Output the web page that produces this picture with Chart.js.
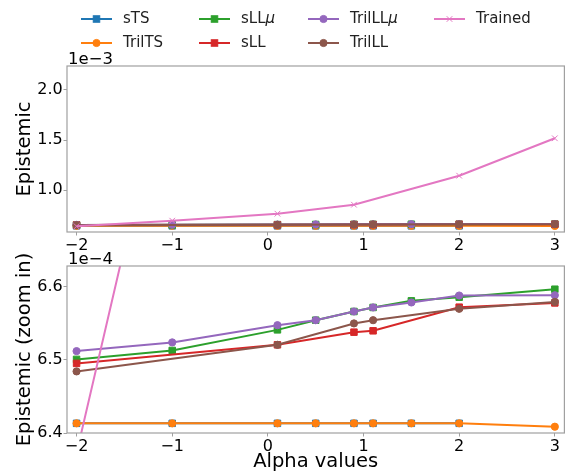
<!DOCTYPE html>
<html><head><meta charset="utf-8">
<script src="https://cdn.jsdelivr.net/npm/chart.js@4.4.0/dist/chart.umd.min.js"></script>
<style>
html,body{margin:0;padding:0;background:#fff;}
#wrap{position:relative;width:570px;height:475px;background:#fff;}
canvas{position:absolute;left:0;top:0;}
</style></head><body>
<div id="wrap"><canvas id="cTop" width="570" height="475"></canvas><canvas id="cBot" width="570" height="475"></canvas></div>
<script>
// ---- data ----
const seriesNames = ['sTS', 'TrilTS', 'sLLμ', 'sLL', 'TrilLLμ', 'TrilLL', 'Trained'];
const seriesColors = ['#1f77b4', '#ff7f0e', '#2ca02c', '#d62728', '#9467bd', '#8c564b', '#e377c2'];
const seriesMarkers = ['rect', 'circle', 'rect', 'rect', 'circle', 'circle', 'crossRot'];

const alphaAll = [-2, -1, 0.1, 0.5, 0.9, 1.1, 1.5, 2, 3];
const alphaTS = [-2, -1, 0.1, 0.5, 0.9, 1.1, 1.5, 2];
const alphaLL = [-2, 0.1, 0.9, 1.1, 2, 3];
const alphaTrained = [-2, -1, 0.1, 0.9, 2, 3];

const sTS = [6.4132e-4, 6.4132e-4, 6.4132e-4, 6.4132e-4, 6.4132e-4, 6.4132e-4, 6.4132e-4, 6.4132e-4];
const trilTS = [6.4132e-4, 6.4132e-4, 6.4132e-4, 6.4132e-4, 6.4132e-4, 6.4132e-4, 6.4132e-4, 6.4132e-4, 6.4086e-4];
const sLLmu = [6.5005e-4, 6.5127e-4, 6.5408e-4, 6.5540e-4, 6.5659e-4, 6.5714e-4, 6.5804e-4, 6.5854e-4, 6.5963e-4];
const sLL = [6.4950e-4, 6.5204e-4, 6.5377e-4, 6.5395e-4, 6.5718e-4, 6.5776e-4];
const trilLLmu = [6.5118e-4, 6.5237e-4, 6.5472e-4, 6.5540e-4, 6.5659e-4, 6.5714e-4, 6.5782e-4, 6.5877e-4, 6.5881e-4];
const trilLL = [6.4841e-4, 6.5204e-4, 6.5496e-4, 6.5540e-4, 6.5695e-4, 6.5790e-4];
const trained = [6.3725e-4, 6.934e-4, 7.63e-4, 8.53e-4, 11.43e-4, 15.17e-4];

const seriesX = [alphaTS, alphaAll, alphaAll, alphaLL, alphaAll, alphaLL, alphaTrained];
const seriesY = [sTS, trilTS, sLLmu, sLL, trilLLmu, trilLL, trained];

const xTicks = [-2, -1, 0, 1, 2, 3];
const xTickLabels = ['−2', '−1', '0', '1', '2', '3'];
const yTicksTop = [1.0e-3, 1.5e-3, 2.0e-3];
const yTickLabelsTop = ['1.0', '1.5', '2.0'];
const yTicksBot = [6.4e-4, 6.5e-4, 6.6e-4];
const yTickLabelsBot = ['6.4', '6.5', '6.6'];

const FONT = 'DejaVu Sans';
const SPINE = '#a0a0a0';

function buildDatasets() {
  return seriesNames.map((name, i) => ({
    label: name,
    data: seriesX[i].map((x, k) => ({x: x, y: seriesY[i][k]})),
    borderColor: seriesColors[i],
    backgroundColor: seriesColors[i],
    pointBackgroundColor: seriesColors[i],
    pointBorderColor: seriesColors[i],
    borderWidth: 2,
    pointStyle: seriesMarkers[i],
    pointRadius: seriesMarkers[i] === 'rect' ? 4.6 : (seriesMarkers[i] === 'circle' ? 3.6 : 4),
    pointBorderWidth: 1,
    tension: 0,
    clip: 0,
    order: seriesNames.length - 1 - i
  }));
}

function drawLegendMarker(ctx, style, color, x, y) {
  ctx.save();
  ctx.fillStyle = color; ctx.strokeStyle = color; ctx.lineWidth = 1;
  if (style === 'rect') {
    const s = 3.25; ctx.fillRect(x - s, y - s, 2 * s, 2 * s); ctx.strokeRect(x - s, y - s, 2 * s, 2 * s);
  } else if (style === 'circle') {
    ctx.beginPath(); ctx.arc(x, y, 3.6, 0, Math.PI * 2); ctx.fill(); ctx.stroke();
  } else {
    const s = 2.8; ctx.beginPath();
    ctx.moveTo(x - s, y - s); ctx.lineTo(x + s, y + s); ctx.moveTo(x + s, y - s); ctx.lineTo(x - s, y + s); ctx.stroke();
  }
  ctx.restore();
}

function drawLabel(ctx, text, x, y) {
  let base = text, suf = '';
  if (text.endsWith('μ')) { base = text.slice(0, -1); suf = 'μ'; }
  ctx.font = '15px "' + FONT + '"';
  ctx.fillText(base, x, y);
  if (suf) {
    const w = ctx.measureText(base).width;
    ctx.font = 'oblique 15px "' + FONT + '"';
    ctx.fillText(suf, x + w, y);
  }
}

const legendCols = [[0, 1], [2, 3], [4, 5], [6]];
const legendColX = [81, 199, 308, 434];
const legendRowY = [19, 43];

function framePlugin(offsetText, withLegend) {
  return {
    id: 'frame',
    afterDraw(chart) {
      const ctx = chart.ctx, a = chart.chartArea;
      ctx.save();
      ctx.strokeStyle = SPINE; ctx.lineWidth = 1.2;
      ctx.strokeRect(a.left, a.top, a.right - a.left, a.bottom - a.top);
      ctx.fillStyle = '#000';
      ctx.textBaseline = 'alphabetic'; ctx.textAlign = 'left';
      ctx.font = '16.5px "' + FONT + '"';
      ctx.fillText(offsetText, 68, a.top - 2);
      if (withLegend) {
        ctx.textBaseline = 'middle';
        legendCols.forEach((col, c) => {
          col.forEach((si, r) => {
            const x0 = legendColX[c], y = legendRowY[r];
            ctx.strokeStyle = seriesColors[si]; ctx.lineWidth = 2;
            ctx.beginPath(); ctx.moveTo(x0, y); ctx.lineTo(x0 + 31, y); ctx.stroke();
            drawLegendMarker(ctx, seriesMarkers[si], seriesColors[si], x0 + 15.5, y);
            ctx.fillStyle = '#222';
            drawLabel(ctx, seriesNames[si], x0 + 42, y);
          });
        });
      }
      ctx.restore();
    }
  };
}

function makeChart(id, cfg) {
  return new Chart(document.getElementById(id), {
    type: 'line',
    data: {datasets: buildDatasets()},
    options: {
      responsive: false, animation: false, devicePixelRatio: 1,
      layout: {padding: {top: cfg.top, bottom: cfg.padBottom, left: 0, right: 0.3}},
      plugins: {legend: {display: false}, tooltip: {enabled: false}},
      scales: {
        x: {
          type: 'linear', min: -2.1, max: 3.1, bounds: 'data',
          afterBuildTicks: s => { s.ticks = xTicks.map(v => ({value: v})); },
          afterFit: s => { s.height = cfg.xh; },
          ticks: {
            callback: v => xTickLabels[xTicks.indexOf(v)],
            font: {family: FONT, size: 16}, color: '#000', padding: 0.5,
            maxRotation: 0, autoSkip: false
          },
          grid: {display: true, drawOnChartArea: false, drawTicks: true, tickLength: 3.5, tickColor: SPINE, tickWidth: 1},
          border: {display: false},
          title: {display: cfg.xTitle, text: 'Alpha values', color: '#000', font: {family: FONT, size: 19.5}, padding: {top: 0, bottom: 1}}
        },
        y: {
          type: 'linear', min: cfg.ymin, max: cfg.ymax, bounds: 'data',
          afterBuildTicks: s => { s.ticks = cfg.yTicks.map(v => ({value: v})); },
          afterFit: s => { s.width = 67; },
          ticks: {
            callback: v => cfg.yLabels[cfg.yTicks.indexOf(v)],
            font: {family: FONT, size: 16}, color: '#000', padding: 0.8
          },
          grid: {display: true, drawOnChartArea: false, drawTicks: true, tickLength: 3.5, tickColor: SPINE, tickWidth: 1},
          border: {display: false},
          title: {display: true, text: cfg.yTitle, color: '#000', font: {family: FONT, size: 19.5}, padding: {top: 13.5, bottom: 0}}
        }
      }
    },
    plugins: [framePlugin(cfg.offset, cfg.legend)]
  });
}

makeChart('cTop', {top: 66, padBottom: 213, xh: 30, xTitle: false, ymin: 0.58e-3, ymax: 2.24e-3,
  yTicks: yTicksTop, yLabels: yTickLabelsTop, yTitle: 'Epistemic', offset: '1e−3', legend: true});
makeChart('cBot', {top: 266, padBottom: 0, xh: 42, xTitle: true, ymin: 6.40e-4, ymax: 6.628e-4,
  yTicks: yTicksBot, yLabels: yTickLabelsBot, yTitle: 'Epistemic (zoom in)', offset: '1e−4', legend: false});
</script>
</body></html>
